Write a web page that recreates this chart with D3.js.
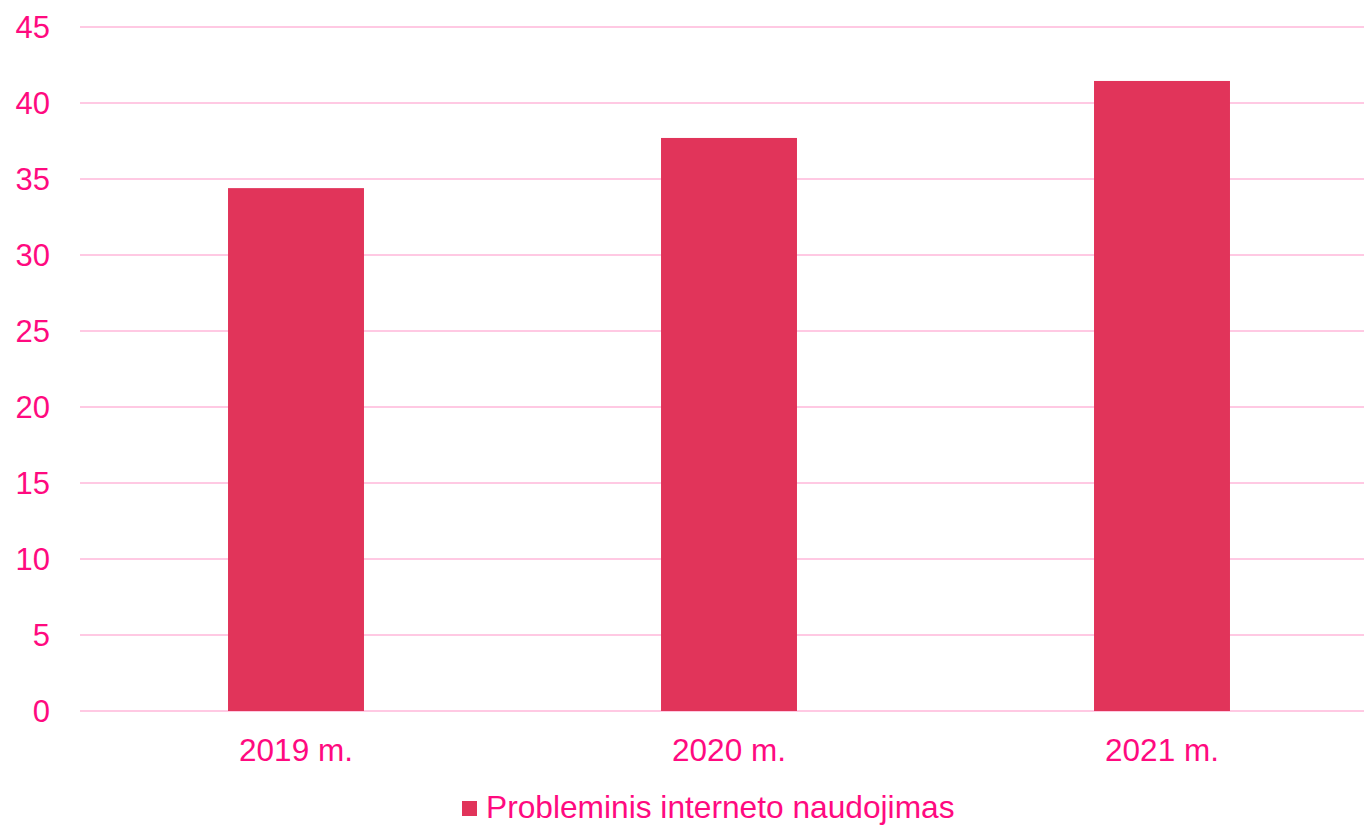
<!DOCTYPE html>
<html>
<head>
<meta charset="utf-8">
<script src="https://cdn.jsdelivr.net/npm/d3@7"></script>
<style>
  body { margin: 0; background: #fff; }
  svg text { font-family: "Liberation Sans", Arial, sans-serif; fill: #FF0A7F; }
</style>
</head>
<body>
<div id="chart"></div>
<script>
// data
var years = ['2019 m.', '2020 m.', '2021 m.']
var values = [34.4, 37.7, 41.45]
var yTicks = [0, 5, 10, 15, 20, 25, 30, 35, 40, 45]
var seriesName = 'Probleminis interneto naudojimas'

var W = 1364, H = 825
var plotL = 79.5, plotR = 1378.5, plotT = 27, plotB = 711

var svg = d3.select('#chart').append('svg')
    .attr('width', W).attr('height', H)

var x = d3.scaleBand().domain(years).range([plotL, plotR]).paddingInner(0.686).paddingOuter(0.343)
var y = d3.scaleLinear().domain([0, 45]).range([plotB, plotT])

// gridlines
svg.append('g').selectAll('line')
    .data(yTicks)
    .enter().append('line')
    .attr('x1', 80).attr('x2', W)
    .attr('y1', d => y(d)).attr('y2', d => y(d))
    .attr('stroke', '#FFC9E3').attr('stroke-width', 2)

// y tick labels
svg.append('g').selectAll('text')
    .data(yTicks)
    .enter().append('text')
    .attr('x', 50).attr('y', d => y(d))
    .attr('dy', '0.36em')
    .attr('text-anchor', 'end')
    .style('font-size', '31px')
    .text(d => d)

// bars
svg.append('g').selectAll('rect')
    .data(values)
    .enter().append('rect')
    .attr('x', (d, i) => x(years[i]))
    .attr('width', x.bandwidth())
    .attr('y', d => y(d))
    .attr('height', d => y(0) - y(d))
    .attr('fill', '#E1345A')

// category labels
svg.append('g').selectAll('text')
    .data(years)
    .enter().append('text')
    .attr('x', d => x(d) + x.bandwidth() / 2)
    .attr('y', 761)
    .attr('text-anchor', 'middle')
    .style('font-size', '31.5px')
    .text(d => d)

// legend
var lg = svg.append('g')
lg.append('rect')
    .attr('x', 462).attr('y', 801).attr('width', 15).attr('height', 15)
    .attr('fill', '#E1345A')
lg.append('text')
    .attr('x', 486).attr('y', 818)
    .style('font-size', '31.7px')
    .text(seriesName)
</script>
</body>
</html>
